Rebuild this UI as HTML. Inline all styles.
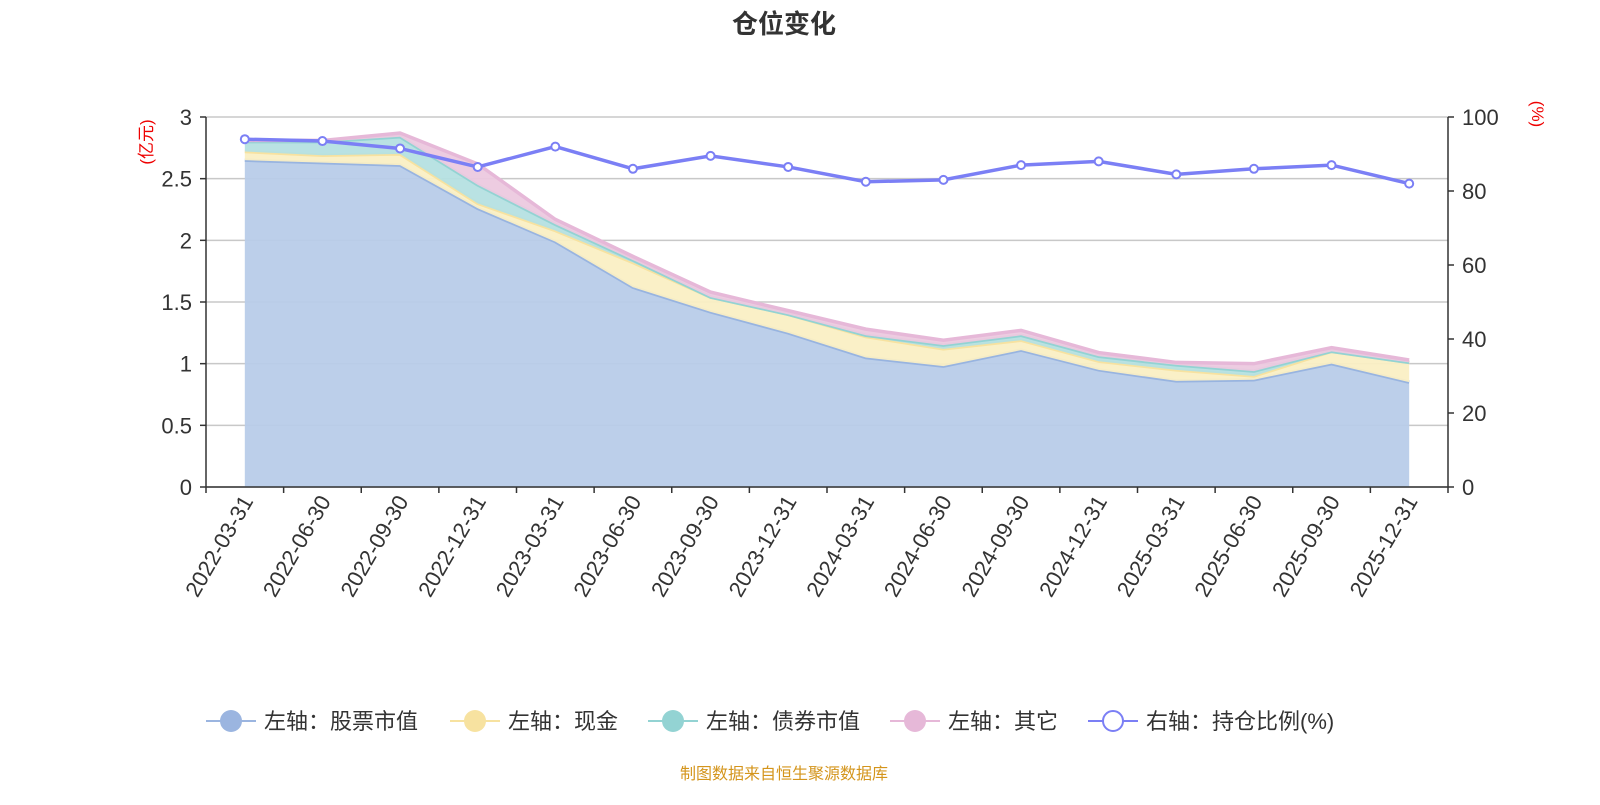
<!DOCTYPE html>
<html><head><meta charset="utf-8"><style>
body{margin:0;background:#fff;font-family:"Liberation Sans","Noto Sans CJK SC",sans-serif;}
svg text{font-family:"Liberation Sans","Noto Sans CJK SC",sans-serif;}
</style></head><body>
<svg id="c" width="1600" height="800" xmlns="http://www.w3.org/2000/svg"></svg>
<script>
const categories=["2022-03-31","2022-06-30","2022-09-30","2022-12-31","2023-03-31","2023-06-30","2023-09-30","2023-12-31","2024-03-31","2024-06-30","2024-09-30","2024-12-31","2025-03-31","2025-06-30","2025-09-30","2025-12-31"];
const stockValues=[2.65,2.63,2.61,2.26,1.99,1.62,1.42,1.25,1.05,0.98,1.11,0.95,0.86,0.87,1.00,0.85];
const cashValues=[0.07,0.06,0.09,0.04,0.09,0.2,0.12,0.15,0.17,0.14,0.08,0.07,0.09,0.03,0.10,0.16];
const bondValues=[0.08,0.11,0.14,0.15,0.05,0.02,0,0,0.01,0.03,0.04,0.04,0.04,0.04,0,0];
const otherValues=[0.01,0.01,0.03,0.17,0.04,0.03,0.04,0.03,0.05,0.04,0.04,0.03,0.02,0.06,0.03,0.02];
const ratioValues=[94,93.5,91.5,86.5,92,86,89.5,86.5,82.5,83,87,88,84.5,86,87,82];
const leftTicks=[0,0.5,1,1.5,2,2.5,3];
const rightTicks=[0,20,40,60,80,100];

const svg=document.getElementById('c');const NS='http://www.w3.org/2000/svg';
function mk(t,a,p){const e=document.createElementNS(NS,t);for(const k in a)e.setAttribute(k,a[k]);(p||svg).appendChild(e);return e;}
const X0=206,X1=1448,Y0=487,Y1=117;
const bw=(X1-X0)/categories.length;
const xs=i=>X0+bw*(i+0.5);
const yl=v=>Y0-(v/3)*(Y0-Y1);
const yr=v=>Y0-(v/100)*(Y0-Y1);

let t=mk('text',{x:784,y:33,'text-anchor':'middle','font-size':26,'font-weight':'bold',fill:'#333'});


t.textContent='仓位变化';

leftTicks.forEach(v=>{
 const g=mk('line',{x1:X0,x2:X1,y1:yl(v),y2:yl(v),stroke:'#c8c8c8','stroke-width':1.5});
 
 
 mk('line',{x1:X0-6,x2:X0,y1:yl(v),y2:yl(v),stroke:'#333','stroke-width':1.5});
 const l=mk('text',{x:X0-14,y:yl(v)+8,'text-anchor':'end','font-size':22,fill:'#333'});
 
 
 l.textContent=v;
});
rightTicks.forEach(v=>{
 mk('line',{x1:X1,x2:X1+6,y1:yr(v),y2:yr(v),stroke:'#333','stroke-width':1.5});
 const l=mk('text',{x:X1+14,y:yr(v)+8,'font-size':22,fill:'#333'});
 
 
 l.textContent=v;
});
let u=mk('text',{transform:'translate(152,142) rotate(-90)','text-anchor':'middle','font-size':17,fill:'#e00'});


u.textContent='(亿元)';
u=mk('text',{transform:'translate(1532,114) rotate(90)','text-anchor':'middle','font-size':17,fill:'#e00'});


u.textContent='(%)';

const series=[[stockValues,'#b8cce9','#98b4e0','stock'],[cashValues,'#faefc4','#f7e2a0','cash'],[bondValues,'#b5e0e2','#93d3d3','bond'],[otherValues,'#ecc9df','#e6b8d8','other']];
let base=categories.map(()=>0);
series.forEach(([vals,fill,line,nm])=>{
 const top=base.map((b,i)=>b+vals[i]);
 let d='M'+categories.map((c,i)=>xs(i)+','+yl(top[i])).join('L');
 for(let i=categories.length-1;i>=0;i--)d+='L'+xs(i)+','+yl(base[i]);
 const a=mk('path',{d:d+'Z',fill:fill,'fill-opacity':0.95});
 
 
 const p=mk('polyline',{points:categories.map((c,i)=>xs(i)+','+yl(top[i])).join(' '),fill:'none',stroke:line,'stroke-width':3.5});
 
 
 base=top;
});

mk('line',{x1:X0,x2:X0,y1:Y1,y2:Y0,stroke:'#333','stroke-width':1.5});
mk('line',{x1:X1,x2:X1,y1:Y1,y2:Y0,stroke:'#333','stroke-width':1.5});
mk('line',{x1:X0,x2:X1,y1:Y0,y2:Y0,stroke:'#333','stroke-width':1.5});
for(let i=0;i<=categories.length;i++)mk('line',{x1:X0+bw*i,x2:X0+bw*i,y1:Y0,y2:Y0+6,stroke:'#333','stroke-width':1.5});
categories.forEach((c,i)=>{
 const l=mk('text',{transform:`translate(${xs(i)+9},${Y0+14}) rotate(-60)`,'text-anchor':'end','font-size':22,fill:'#333'});
 
 
 l.textContent=c;
});

const rl=mk('polyline',{points:ratioValues.map((v,i)=>xs(i)+','+yr(v)).join(' '),fill:'none',stroke:'#7b7ff5','stroke-width':3.5});


ratioValues.forEach((v,i)=>{
 const c=mk('circle',{cx:xs(i),cy:yr(v),r:4,fill:'#fff',stroke:'#7b7ff5','stroke-width':2});
 
 
});

const leg=[['左轴：股票市值','#9bb5e0',false,206],['左轴：现金','#f7e2a0',false,450],['左轴：债券市值','#93d3d3',false,648],['左轴：其它','#e6b8d8',false,890],['右轴：持仓比例(%)','#7b7ff5',true,1088]];
leg.forEach(([txt,col,hollow,x])=>{
 const g=mk('g',{});
 
 
 mk('line',{x1:x,x2:x+50,y1:721,y2:721,stroke:col,'stroke-width':2},g);
 mk('circle',{cx:x+25,cy:721,r:hollow?10:11,fill:hollow?'#fff':col,stroke:col,'stroke-width':hollow?2:0},g);
 const l=mk('text',{x:x+58,y:729,'font-size':22,fill:'#333'},g);
 l.textContent=txt;
});
const s=mk('text',{x:784,y:779,'text-anchor':'middle','font-size':16,fill:'#d4951c'});


s.textContent='制图数据来自恒生聚源数据库';
</script>
</body></html>
